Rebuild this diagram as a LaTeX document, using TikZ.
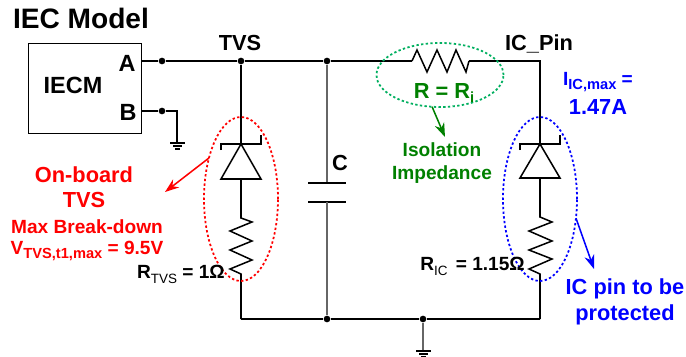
\documentclass[tikz,border=0pt]{standalone}
\usepackage{fontspec}
\setmainfont{Liberation Sans}
\usepackage{tikz}
\usetikzlibrary{arrows.meta,shapes.geometric}

\newcommand{\lowtext}[1]{\raisebox{-.32ex}{\fontsize{12.5}{12.5}\selectfont #1}}
\newcommand{\lowplain}[1]{\raisebox{-.5ex}{\mdseries\fontsize{11.5}{11.5}\selectfont #1}}

\definecolor{ringgreen}{RGB}{0,175,95}
\definecolor{labelgreen}{RGB}{0,128,0}

\tikzset{
    wire/.style={line width=1.3pt},
    thinwire/.style={line width=1.1pt, black!60},
    dot/.style={circle, fill=black, inner sep=0pt, minimum size=0.2cm},
    ring/.style={ellipse, draw, inner sep=0pt, outer sep=0pt, line width=1.5pt, dash pattern=on 2pt off 2pt},
    callout/.style={-{Stealth[length=0.42cm,width=0.3cm]}, line width=1.3pt},
    bigtext/.style={font=\bfseries\fontsize{18.6}{18.6}\selectfont, inner sep=0pt},
    smalltext/.style={font=\bfseries\fontsize{16.3}{16.3}\selectfont, inner sep=0pt},
    porttext/.style={font=\bfseries\fontsize{20}{20}\selectfont, inner sep=0pt},
}

\begin{document}
\begin{tikzpicture}[x=0.03cm, y=-0.03cm]
        \useasboundingbox (0,0) rectangle (686,357);

        \coordinate (portA) at (141,61);
        \coordinate (portB) at (141,111);
        \coordinate (gndB) at (177,111);
        \coordinate (gndBend) at (177,143);
        \coordinate (icTop) at (540,61);
        \coordinate (icBot) at (540,319);
        \coordinate (tvsBot) at (241,319);
        \coordinate (resIn) at (412,61);
        \coordinate (resOut) at (469,61);
        \coordinate (capHi) at (327,183);
        \coordinate (capLo) at (327,202);
        \coordinate (gndMainEnd) at (423,351);

        \node[draw, line width=0.8pt, minimum width=3.39cm, minimum height=2.7cm, inner sep=0pt] (iecm) at (84.5,88) {};
        \node[dot] (dotA) at (162,61) {};
        \node[dot] (dotB) at (162,111) {};
        \node[dot] (dotTVS) at (241,61) {};
        \node[dot] (dotCapTop) at (327,61) {};
        \node[dot] (dotCapBot) at (327,319) {};
        \node[dot] (dotGnd) at (423,319) {};

        % top and bottom rails
        \draw[wire] (portA)--(dotA)--(dotTVS)--(dotCapTop)--(resIn);
        \draw[wire] (resIn)--(417,50)--(427,72)--(437,50)--(447,72)--(456,50)--(466,72)--(resOut);
        \draw[wire] (resOut)--(icTop)--(540,144);
        \draw[wire] (portB)--(dotB)--(gndB)--(gndBend);
        \draw[wire] (tvsBot)--(dotCapBot)--(dotGnd)--(icBot);

        % ground symbols
        \draw[wire] (170,143)--(185,143);
        \draw[wire] (173,146)--(182,146);
        \draw[wire] (175,149)--(180,149);
        \draw[thinwire] (dotGnd)--(gndMainEnd);
        \draw[wire] (416,351)--(431,351);
        \draw[wire] (419,354)--(428,354);
        \draw[wire] (421,357)--(426,357);

        % TVS branch
        \draw[wire] (dotTVS)--(241,144);
        \draw[wire] (221,150)--(221,144)--(261,144)--(261,135);
        \draw[wire] (241,144)--(221,179)--(261,179)--cycle;
        \draw[wire] (241,179)--(241,218)--(252,222)--(230,231)--(252,241)--(230,250)--(252,260)--(230,269)--(241,274)--(tvsBot);

        % capacitor
        \draw[thinwire] (dotCapTop)--(capHi);
        \draw[wire] (308,183)--(346,183);
        \draw[wire] (308,202)--(346,202);
        \draw[thinwire] (capLo)--(dotCapBot);

        % IC branch
        \draw[wire] (520,150)--(520,144)--(560,144)--(560,135);
        \draw[wire] (540,144)--(520,178)--(560,178)--cycle;
        \draw[wire] (540,178)--(540,217)--(552,222)--(529,231)--(552,241)--(529,250)--(552,259)--(529,269)--(540,274)--(icBot);

        % rings and call-outs
        \node[ring, red, minimum width=2.22cm, minimum height=4.92cm] (ringTVS) at (241,199) {};
        \node[ring, blue, minimum width=2.22cm, minimum height=4.92cm] (ringIC) at (540,199) {};
        \node[ring, ringgreen, minimum width=3.81cm, minimum height=1.92cm] (ringR) at (440,75) {};
        \coordinate (tipTVS) at (165,192);
        \coordinate (tipR) at (445,137);
        \coordinate (tipIC) at (594,269);
        \draw[callout, red] (ringTVS.128)--(tipTVS);
        \draw[callout, labelgreen] (ringR.256)--(tipR);
        \draw[callout, blue] (ringIC.-28)--(tipIC);

        % labels
        \node[inner sep=0pt, font=\bfseries\fontsize{24}{24}\selectfont] (title) at (81,18) {IEC Model};
        \node[porttext] (labelA) at (127,63) {A};
        \node[porttext] (labelB) at (128,112) {B};
        \node[porttext] (labelIECM) at (73,85) {IECM};
        \node[bigtext] (labelTVS) at (240,43) {TVS};
        \node[bigtext] (labelPin) at (539,44) {IC\_Pin};
        \node[bigtext] (labelC) at (340,163) {C};
        \node[bigtext, red] (onBoard) at (84,175) {On-board};
        \node[bigtext, red] (onTVS) at (84,200) {TVS};
        \node[smalltext, red] (maxBreak) at (87,227) {Max Break-down};
        \node[smalltext, red] (vMax) at (87,251) {V\lowtext{TVS,t1,max} = 9.5V};
        \node[smalltext, anchor=east] (rTVS) at (225,274) {R\lowplain{TVS} = 1Ω};
        \node[smalltext, anchor=east] (rIC) at (525,266) {R\lowplain{IC}\hspace{2.5pt} = 1.15Ω};
        \node[bigtext, labelgreen] (rIso) at (444,93) {R = R\lowtext{i}};
        \node[smalltext, labelgreen] (iso) at (442,150) {Isolation};
        \node[smalltext, labelgreen] (imp) at (442,175) {Impedance};
        \node[smalltext, blue] (iMax) at (598,82) {I\lowtext{IC,max} =};
        \node[bigtext, blue] (iVal) at (598,107) {1.47A};
        \node[bigtext, blue] (pinTop) at (625,289) {IC pin to be};
        \node[bigtext, blue] (pinBot) at (625,315) {protected};

    \end{tikzpicture}
\end{document}
